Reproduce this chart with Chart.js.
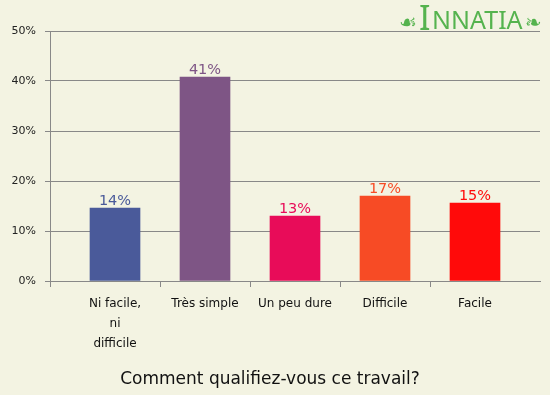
<!DOCTYPE html>
<html>
<head>
<meta charset="utf-8">
<script src="https://cdn.jsdelivr.net/npm/chart.js@4"></script>
<style>
  html, body { margin:0; padding:0; background:#F3F3E2; }
  #wrap { width:550px; height:395px; position:relative; }
</style>
</head>
<body>
<div id="wrap"><canvas id="c" width="550" height="395"></canvas></div>
<script>
const CATEGORIES = [['Ni facile,','ni','difficile'], 'Très simple', 'Un peu dure', 'Difficile', 'Facile'];
const VALUES = [14.6, 40.8, 13.0, 17.0, 15.6];
const VALUE_LABELS = ['14%', '41%', '13%', '17%', '15%'];
const BAR_COLORS = ['#4A5A9A', '#7E5585', '#E80C59', '#F74B25', '#FF0A0A'];
const Y_TICKS = [0, 10, 20, 30, 40, 50];
const TITLE = 'Comment qualifiez-vous ce travail?';

const grid = '#888888';
const font = 'DejaVu Sans';
const edge = 20 / 90;

// values printed above each bar, in the bar colour
const valueLabels = {
  id: 'valueLabels',
  afterDatasetsDraw(chart) {
    const ctx = chart.ctx;
    const meta = chart.getDatasetMeta(0);
    ctx.save();
    ctx.font = '14.5px "' + font + '"';
    ctx.textAlign = 'center';
    ctx.textBaseline = 'alphabetic';
    meta.data.forEach((bar, i) => {
      ctx.fillStyle = BAR_COLORS[i];
      ctx.fillText(VALUE_LABELS[i], bar.x, bar.y - 3);
    });
    ctx.restore();
  }
};

// site logo top right
const logo = {
  id: 'logo',
  afterDraw(chart) {
    const ctx = chart.ctx;
    ctx.save();
    ctx.fillStyle = '#55B34E';
    ctx.textBaseline = 'alphabetic';
    ctx.font = '20px "DejaVu Sans"';
    ctx.textAlign = 'left';
    ctx.fillText('☙', 399, 29);
    ctx.fillText('❧', 525, 29);
    ctx.font = '34px "Noto Sans"';
    ctx.fillText('I', 419, 30);
    ctx.font = '25px "Noto Sans"';
    ctx.fillText('NNATIA', 432, 29);
    ctx.restore();
  }
};

const isCenter = v => Math.abs(v - Math.round(v)) < 1e-6;

new Chart(document.getElementById('c'), {
  type: 'bar',
  data: {
    datasets: [{
      data: VALUES.map((v, i) => ({ x: i, y: v })),
      backgroundColor: BAR_COLORS,
      barThickness: 50,
      borderWidth: 0
    }]
  },
  options: {
    responsive: false,
    animation: false,
    layout: { padding: { top: 31, right: 10, left: 0, bottom: 0 } },
    plugins: {
      legend: { display: false },
      tooltip: { enabled: false },
      title: {
        display: true, position: 'bottom', text: TITLE, color: '#111',
        font: { family: font, size: 17, weight: 'normal' }, padding: { top: 0, bottom: 5 }
      }
    },
    scales: {
      x: {
        type: 'linear', min: -0.5 - edge, max: 4.5 + edge, offset: false,
        afterBuildTicks: s => {
          const t = [-0.5 - edge];
          for (let i = 0; i < CATEGORIES.length; i++) { t.push(i); if (i < CATEGORIES.length - 1) t.push(i + 0.5); }
          s.ticks = t.map(v => ({ value: v }));
        },
        afterFit: s => { s.height = 88.6; },
        grid: {
          offset: false, drawOnChartArea: false, tickLength: 6,
          tickColor: c => (c.tick && isCenter(c.tick.value)) ? 'rgba(0,0,0,0)' : grid
        },
        border: { color: grid },
        ticks: {
          autoSkip: false, maxRotation: 0, padding: 7, color: '#111',
          font: { family: font, size: 12, lineHeight: 1.65 },
          callback: v => isCenter(v) ? CATEGORIES[Math.round(v)] : ''
        }
      },
      y: {
        min: 0, max: 50,
        afterBuildTicks: s => { s.ticks = Y_TICKS.map(v => ({ value: v })); },
        afterFit: s => { s.width = 50; },
        grid: { color: grid, tickLength: 5 },
        border: { color: grid },
        ticks: { padding: 9, color: '#222', font: { family: font, size: 11 }, callback: v => v + '%' }
      }
    }
  },
  plugins: [valueLabels, logo]
});
</script>
</body>
</html>
